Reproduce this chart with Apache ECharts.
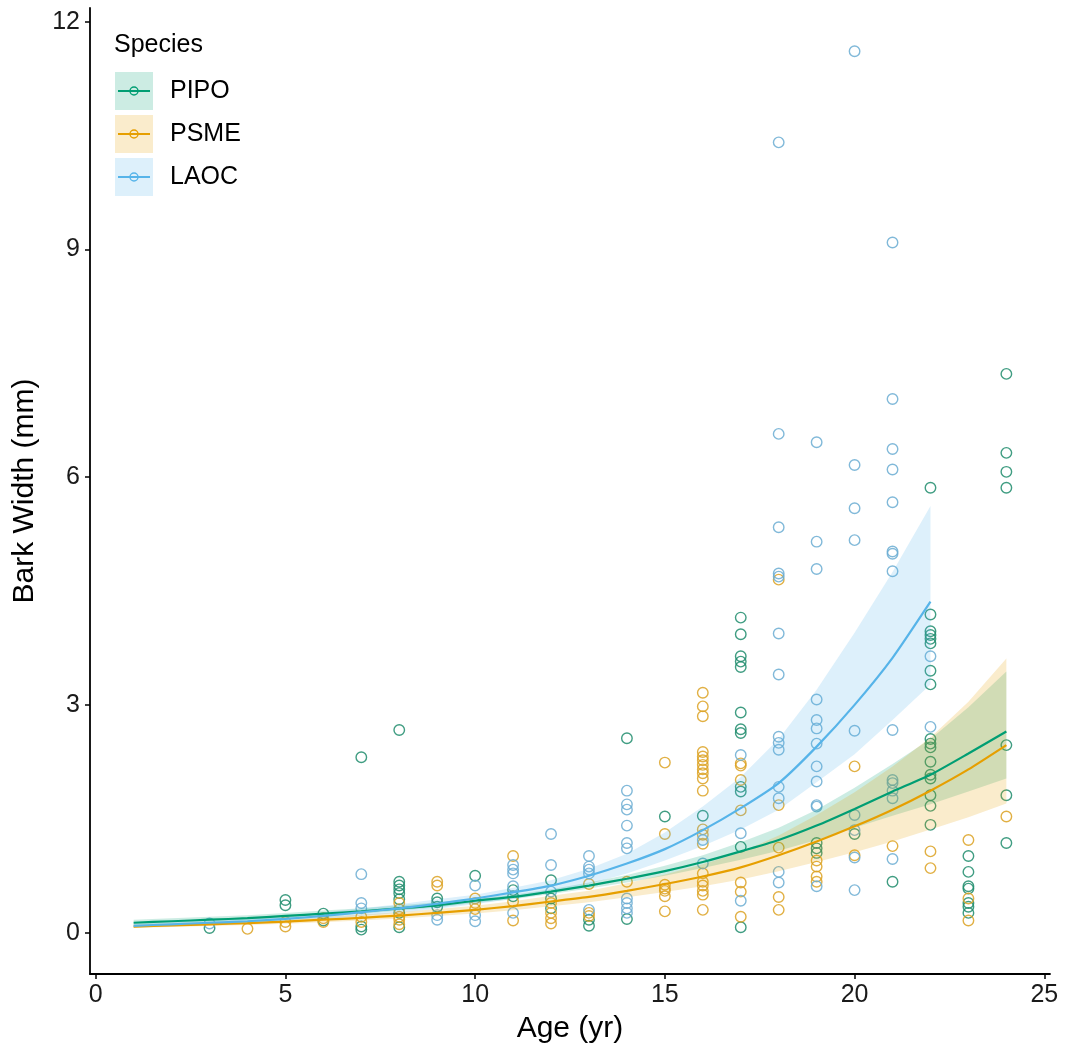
<!DOCTYPE html>
<html>
<head>
<meta charset="utf-8">
<script src="https://cdn.jsdelivr.net/npm/echarts@6/dist/echarts.min.js"></script>
<style>
  html, body { margin: 0; background: #fff; }
  #chart { width: 1065px; height: 1053px; }
</style>
</head>
<body>
<div id="chart"></div>
<script>
const species = ['PIPO', 'PSME', 'LAOC']
const colors = { PIPO: '#009E73', PSME: '#E69F00', LAOC: '#56B4E9' }
const pointColors = { PIPO: '#1f8c6c', PSME: '#dca223', LAOC: '#6badd2' }
const fills = { PIPO: 'rgba(0,158,115,0.2)', PSME: 'rgba(230,159,0,0.2)', LAOC: 'rgba(86,180,233,0.2)' }

const xTicks = [0, 5, 10, 15, 20, 25]
const yTicks = [0, 3, 6, 9, 12]

// observed bark widths [age, mm]
const pipoPoints = [
  [3, 0.06], [5, 0.43], [5, 0.36], [6, 0.25], [6, 0.16], [7, 2.31], [7, 0.08], [7, 0.04],
  [8, 2.67], [8, 0.67], [8, 0.62], [8, 0.57], [8, 0.52], [8, 0.44], [8, 0.26], [8, 0.07],
  [9, 0.45], [9, 0.40], [9, 0.34], [10, 0.75], [11, 0.56], [11, 0.48],
  [12, 0.69], [12, 0.45], [12, 0.32], [13, 0.17], [13, 0.09], [14, 2.56], [14, 0.18],
  [15, 1.53], [16, 1.54],
  [17, 4.15], [17, 3.93], [17, 3.64], [17, 3.57], [17, 3.50], [17, 2.90], [17, 2.68], [17, 2.63],
  [17, 1.92], [17, 1.86], [17, 1.13], [17, 0.07],
  [19, 1.18], [19, 1.11], [19, 1.05], [20, 1.30], [21, 0.67],
  [22, 5.86], [22, 4.19], [22, 3.97], [22, 3.92], [22, 3.87], [22, 3.81], [22, 3.45], [22, 3.27],
  [22, 2.55], [22, 2.49], [22, 2.44], [22, 2.25], [22, 2.08], [22, 2.03], [22, 1.81], [22, 1.67], [22, 1.42],
  [23, 1.01], [23, 0.80], [23, 0.61], [23, 0.58], [23, 0.39], [23, 0.34], [23, 0.26],
  [24, 7.36], [24, 6.32], [24, 6.07], [24, 5.86], [24, 2.47], [24, 1.81], [24, 1.18]
]
const psmePoints = [
  [4, 0.05], [5, 0.14], [5, 0.08], [6, 0.19], [6, 0.14], [7, 0.21], [7, 0.14],
  [8, 0.39], [8, 0.31], [8, 0.21], [8, 0.17], [8, 0.11], [9, 0.67], [9, 0.62],
  [10, 0.45], [10, 0.39], [10, 0.31], [11, 1.01], [11, 0.41], [11, 0.16],
  [12, 0.39], [12, 0.26], [12, 0.19], [12, 0.12], [13, 0.64], [13, 0.26], [13, 0.22], [14, 0.67],
  [15, 2.24], [15, 1.30], [15, 0.63], [15, 0.58], [15, 0.55], [15, 0.48], [15, 0.28],
  [16, 3.16], [16, 2.98], [16, 2.85], [16, 2.38], [16, 2.32], [16, 2.27], [16, 2.21], [16, 2.15],
  [16, 2.10], [16, 2.03], [16, 1.87], [16, 1.36], [16, 1.29], [16, 1.17], [16, 0.78], [16, 0.67],
  [16, 0.62], [16, 0.55], [16, 0.50], [16, 0.30],
  [17, 2.23], [17, 2.20], [17, 2.01], [17, 1.61], [17, 0.66], [17, 0.54], [17, 0.21],
  [18, 4.65], [18, 1.68], [18, 1.12], [18, 0.47], [18, 0.30],
  [19, 0.95], [19, 0.87], [19, 0.74], [19, 0.67], [20, 2.19], [20, 1.02], [21, 1.14],
  [22, 1.07], [22, 0.85], [23, 1.22], [23, 0.45], [23, 0.16], [24, 1.53]
]
const laocPoints = [
  [3, 0.12], [7, 0.77], [7, 0.39], [7, 0.32], [9, 0.23], [9, 0.17], [10, 0.62], [10, 0.23], [10, 0.15],
  [11, 0.89], [11, 0.83], [11, 0.78], [11, 0.61], [11, 0.26], [12, 1.30], [12, 0.89], [12, 0.54],
  [13, 1.01], [13, 0.87], [13, 0.83], [13, 0.78], [13, 0.30],
  [14, 1.87], [14, 1.69], [14, 1.62], [14, 1.41], [14, 1.18], [14, 1.11], [14, 0.45], [14, 0.39], [14, 0.32], [14, 0.26],
  [16, 1.22], [16, 0.91], [17, 2.34], [17, 1.31], [17, 0.42],
  [18, 10.41], [18, 6.57], [18, 5.34], [18, 4.73], [18, 4.69], [18, 3.94], [18, 3.40], [18, 2.58],
  [18, 2.50], [18, 2.41], [18, 1.92], [18, 1.77], [18, 0.80], [18, 0.66],
  [19, 6.46], [19, 5.15], [19, 4.79], [19, 3.07], [19, 2.80], [19, 2.69], [19, 2.49], [19, 2.19],
  [19, 1.99], [19, 1.68], [19, 1.66], [19, 0.61],
  [20, 11.61], [20, 6.16], [20, 5.59], [20, 5.17], [20, 2.66], [20, 1.55], [20, 1.35], [20, 0.99], [20, 0.56],
  [21, 9.09], [21, 7.03], [21, 6.37], [21, 6.10], [21, 5.67], [21, 5.02], [21, 4.99], [21, 4.76],
  [21, 2.67], [21, 2.01], [21, 1.97], [21, 1.87], [21, 1.77], [21, 0.97],
  [22, 3.64], [22, 2.71]
]

// fitted curves and confidence bands, age 1..24 (LAOC 1..22)
const fitAge = [1, 2, 3, 4, 5, 6, 7, 8, 9, 10, 11, 12, 13, 14, 15, 16, 17, 18, 19, 20, 21, 22, 23, 24]
const pipoFit = [0.13, 0.15, 0.17, 0.19, 0.22, 0.25, 0.28, 0.32, 0.36, 0.42, 0.47, 0.54, 0.62, 0.71, 0.81, 0.93, 1.07, 1.22, 1.41, 1.63, 1.86, 2.08, 2.36, 2.65]
const pipoLo = [0.10, 0.12, 0.14, 0.16, 0.19, 0.22, 0.25, 0.29, 0.33, 0.39, 0.44, 0.51, 0.58, 0.66, 0.75, 0.85, 0.96, 1.08, 1.22, 1.38, 1.54, 1.69, 1.86, 2.03]
const pipoHi = [0.17, 0.19, 0.21, 0.23, 0.26, 0.29, 0.32, 0.36, 0.40, 0.45, 0.50, 0.57, 0.66, 0.76, 0.88, 1.02, 1.19, 1.38, 1.62, 1.91, 2.22, 2.55, 2.97, 3.44]
const psmeFit = [0.08, 0.095, 0.11, 0.125, 0.145, 0.17, 0.195, 0.225, 0.26, 0.30, 0.35, 0.41, 0.47, 0.55, 0.64, 0.74, 0.86, 1.02, 1.20, 1.40, 1.62, 1.87, 2.15, 2.47]
const psmeLo = [0.06, 0.073, 0.086, 0.10, 0.117, 0.138, 0.16, 0.187, 0.218, 0.253, 0.296, 0.346, 0.40, 0.465, 0.535, 0.61, 0.70, 0.81, 0.93, 1.06, 1.20, 1.36, 1.52, 1.70]
const psmeHi = [0.107, 0.123, 0.14, 0.157, 0.18, 0.21, 0.238, 0.27, 0.31, 0.355, 0.414, 0.486, 0.553, 0.65, 0.765, 0.90, 1.06, 1.28, 1.55, 1.85, 2.19, 2.57, 3.04, 3.61]
const laocFit = [0.09, 0.11, 0.13, 0.15, 0.18, 0.22, 0.27, 0.32, 0.38, 0.45, 0.53, 0.62, 0.75, 0.91, 1.10, 1.35, 1.64, 1.97, 2.45, 3.00, 3.62, 4.36]
const laocLo = [0.068, 0.084, 0.10, 0.117, 0.142, 0.176, 0.218, 0.262, 0.314, 0.375, 0.446, 0.53, 0.64, 0.78, 0.95, 1.14, 1.36, 1.62, 1.98, 2.35, 2.80, 3.27]
const laocHi = [0.117, 0.14, 0.163, 0.186, 0.22, 0.265, 0.32, 0.375, 0.44, 0.50, 0.59, 0.69, 0.84, 1.04, 1.32, 1.66, 2.05, 2.55, 3.20, 3.95, 4.75, 5.62]

const font = "'Liberation Sans', Arial, sans-serif"

const pointSeries = (name, pts) => ({
  type: 'scatter',
  name,
  data: pts,
  symbol: 'circle',
  symbolSize: 10.5,
  itemStyle: { color: 'rgba(0,0,0,0)', borderColor: pointColors[name], borderWidth: 1.4, opacity: 0.85 },
  silent: true,
  z: 2
})

// ribbon as one polygon: upper edge left->right, lower edge right->left
const bandSeries = (name, lo, hi) => ({
  type: 'custom',
  data: lo.map((v, i) => [fitAge[i], v, hi[i]]),
  encode: { x: 0, y: [1, 2] },
  silent: true,
  z: 3,
  renderItem: (params, api) => {
    if (params.dataIndex !== 0) return null
    const upper = hi.map((v, i) => api.coord([fitAge[i], v]))
    const lower = lo.map((v, i) => api.coord([fitAge[i], v])).reverse()
    return {
      type: 'polygon',
      shape: { points: upper.concat(lower) },
      style: { fill: fills[name] }
    }
  }
})

const fitSeries = (name, fit) => ({
  type: 'line',
  name,
  data: fit.map((v, i) => [fitAge[i], v]),
  symbol: 'none',
  smooth: 0.2,
  lineStyle: { color: colors[name], width: 2.2 },
  silent: true,
  z: 4
})

// legend drawn by hand: ribbon swatch + line + hollow point
const legendItems = species.flatMap((name, i) => {
  const top = 72 + i * 43
  return [
    { type: 'rect', shape: { x: 115, y: top, width: 38, height: 38 }, style: { fill: fills[name] } },
    { type: 'line', shape: { x1: 118, y1: top + 19, x2: 150, y2: top + 19 }, style: { stroke: colors[name], lineWidth: 2 } },
    { type: 'circle', shape: { cx: 134, cy: top + 19, r: 4 }, style: { fill: 'none', stroke: colors[name], lineWidth: 1.4 } },
    { type: 'text', x: 170, y: top + 19, style: { text: name, font: '25px ' + font, fill: '#000', verticalAlign: 'middle' } }
  ]
})

const chart = echarts.init(document.getElementById('chart'))
chart.setOption({
  animation: false,
  backgroundColor: '#fff',
  grid: { left: 90, right: 15, top: 8, bottom: 79 },
  xAxis: {
    type: 'value',
    min: -0.15,
    max: 25.15,
    name: 'Age (yr)',
    nameLocation: 'middle',
    nameGap: 40,
    nameTextStyle: { fontSize: 30, fontFamily: font, color: '#000', verticalAlign: 'top' },
    axisLine: { onZero: false, lineStyle: { color: '#000', width: 1.8 } },
    axisTick: { customValues: xTicks, length: 5, lineStyle: { color: '#000', width: 1.5 } },
    axisLabel: { customValues: xTicks, fontSize: 25, fontFamily: font, color: '#1a1a1a', margin: 9 },
    splitLine: { show: false }
  },
  yAxis: {
    type: 'value',
    min: -0.545,
    max: 12.18,
    name: 'Bark Width (mm)',
    nameLocation: 'middle',
    nameGap: 50,
    nameTextStyle: { fontSize: 30, fontFamily: font, color: '#000' },
    axisLine: { show: true, onZero: false, lineStyle: { color: '#000', width: 1.8 } },
    axisTick: { show: true, customValues: yTicks, length: 5, lineStyle: { color: '#000', width: 1.5 } },
    axisLabel: { customValues: yTicks, fontSize: 25, fontFamily: font, color: '#1a1a1a', margin: 10 },
    splitLine: { show: false }
  },
  graphic: [
    { type: 'text', x: 114, y: 45, style: { text: 'Species', font: '25px ' + font, fill: '#000', verticalAlign: 'middle' } },
    ...legendItems
  ],
  series: [
    pointSeries('PIPO', pipoPoints),
    pointSeries('PSME', psmePoints),
    pointSeries('LAOC', laocPoints),
    bandSeries('PIPO', pipoLo, pipoHi),
    bandSeries('PSME', psmeLo, psmeHi),
    bandSeries('LAOC', laocLo, laocHi),
    fitSeries('PIPO', pipoFit),
    fitSeries('PSME', psmeFit),
    fitSeries('LAOC', laocFit)
  ]
})
</script>
</body>
</html>
